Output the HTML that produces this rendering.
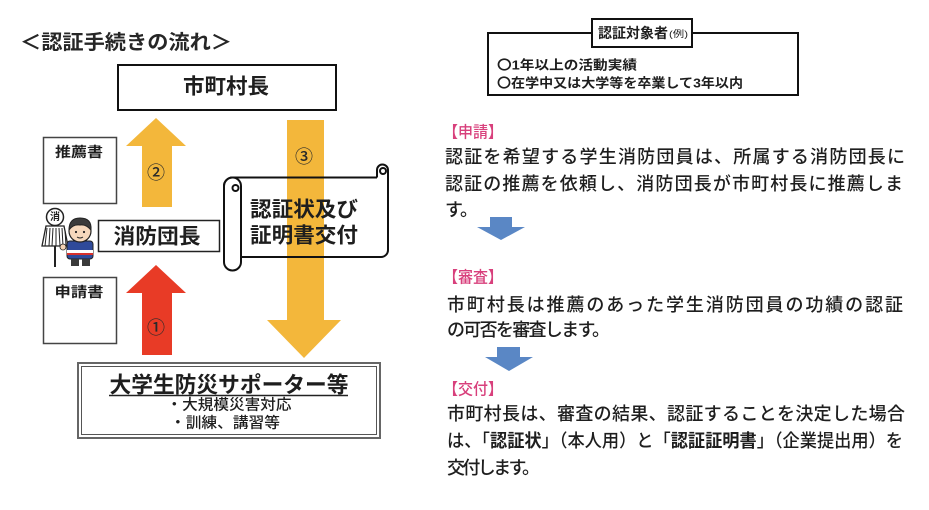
<!DOCTYPE html>
<html lang="ja">
<head>
<meta charset="utf-8">
<style>
  html, body { margin:0; padding:0; background:#fff; }
  body { width:929px; height:510px; overflow:hidden; }
  svg { display:block; }
  text { font-family: "Liberation Sans", "Noto Sans CJK JP", sans-serif; fill:#1e1e1e; }
  .b { font-weight:bold; }
  .m { font-weight:500; }
  .pink { fill:#d8407c; }
</style>
</head>
<body>
<svg width="929" height="510" viewBox="0 0 929 510" xmlns="http://www.w3.org/2000/svg">
  <rect x="0" y="0" width="929" height="510" fill="#fff"/>

  <!-- Title -->
  <text x="20" y="43" font-size="20" class="b" dominant-baseline="central" textLength="212" lengthAdjust="spacingAndGlyphs" style="fill:#262626">＜認証手続きの流れ＞</text>

  <!-- 市町村長 box -->
  <rect x="118" y="65" width="218" height="45" fill="#fff" stroke="#111" stroke-width="2"/>
  <text x="226" y="87" font-size="21" class="b" text-anchor="middle" dominant-baseline="central" textLength="86" lengthAdjust="spacingAndGlyphs">市町村長</text>

  <!-- 推薦書 box -->
  <rect x="43.5" y="137.5" width="73" height="66" fill="#fff" stroke="#444" stroke-width="1.5"/>
  <text x="79" y="152" font-size="14" class="b" text-anchor="middle" dominant-baseline="central" textLength="48" lengthAdjust="spacingAndGlyphs">推薦書</text>

  <!-- 申請書 box -->
  <rect x="43.5" y="277.5" width="73" height="66" fill="#fff" stroke="#444" stroke-width="1.5"/>
  <text x="79" y="292" font-size="14" class="b" text-anchor="middle" dominant-baseline="central" textLength="49" lengthAdjust="spacingAndGlyphs">申請書</text>

  <!-- Yellow up arrow (2) -->
  <polygon points="156,118 186,146 172,146 172,207 142,207 142,146 126,146" fill="#f3b73b"/>
  <text x="156" y="173" font-size="18" class="m" text-anchor="middle" dominant-baseline="central" style="fill:#2a2a2a">②</text>

  <!-- Red up arrow (1) -->
  <polygon points="156,265 186,293 172,293 172,355 142,355 142,293 126,293" fill="#e83b26"/>
  <text x="156" y="328" font-size="18" class="m" text-anchor="middle" dominant-baseline="central" style="fill:#2a2a2a">①</text>

  <!-- Yellow down arrow (3) -->
  <polygon points="287,120 324,120 324,320 341,320 304,358 267,320 287,320" fill="#f3b73b"/>
  <text x="304" y="157" font-size="18" class="m" text-anchor="middle" dominant-baseline="central" style="fill:#2a2a2a">③</text>

  <!-- Scroll shape (no fill) -->
  <g fill="none" stroke="#111" stroke-width="2" stroke-linejoin="round">
    <path d="M233 177.5 L377 177.5"/>
    <path d="M377 177.5 L377 170 A5.5 5.5 0 0 1 388 170 L388 250 A7 7 0 0 1 381 257 L241 257"/>
    <circle cx="383" cy="171" r="3"/>
    <path d="M241 186 L241 262 A8.5 8.5 0 0 1 224 262 L224 186 A8.5 8.5 0 0 1 241 186"/>
    <path d="M233 177.5 A8.5 8.5 0 0 0 224 186"/>
    <circle cx="235.5" cy="188" r="3"/>
  </g>
  <text x="250" y="210" font-size="21" class="b" dominant-baseline="central" textLength="108" lengthAdjust="spacingAndGlyphs">認証状及び</text>
  <text x="250" y="236" font-size="21" class="b" dominant-baseline="central" textLength="108" lengthAdjust="spacingAndGlyphs">証明書交付</text>

  <!-- 消防団長 box -->
  <rect x="98.5" y="220.5" width="121" height="31" fill="#fff" stroke="#222" stroke-width="1.5"/>
  <text x="157" y="237" font-size="21" class="b" text-anchor="middle" dominant-baseline="central" textLength="87" lengthAdjust="spacingAndGlyphs">消防団長</text>

  <!-- Firefighter figure -->
  <g>
    <line x1="55" y1="240" x2="55" y2="267" stroke="#222" stroke-width="2"/>
    <path d="M46 226 L64 226 L68 246 L42 246 Z" fill="#fff" stroke="#222" stroke-width="1.3"/>
    <path d="M47 228 L45 246 M50 228 L49 246 M53 228 L52 246 M56 228 L56 246 M59 228 L60 246 M62 228 L63 246 M65 230 L66 246" stroke="#222" stroke-width="1"/>
    <circle cx="55" cy="217" r="8.5" fill="#fff" stroke="#222" stroke-width="1.5"/>
    <text x="55" y="217.5" font-size="10" class="b" text-anchor="middle" dominant-baseline="central">消</text>
    <circle cx="63" cy="247" r="3" fill="#f4d3b4" stroke="#222" stroke-width="0.8"/>
    <rect x="67" y="241" width="26" height="18" rx="3" fill="#2f4a9a" stroke="#222" stroke-width="1"/>
    <rect x="67" y="250" width="26" height="3" fill="#fff"/>
    <rect x="67" y="253" width="26" height="2" fill="#d8302b"/>
    <rect x="71" y="259" width="8" height="7" fill="#3a3a3a"/>
    <rect x="82" y="259" width="8" height="7" fill="#3a3a3a"/>
    <circle cx="80" cy="231" r="11" fill="#f6d8bc" stroke="#222" stroke-width="1.2"/>
    <path d="M69 230 Q69 218 80 218 Q92 218 91 230 Q86 224 80 225 Q73 224 69 230 Z" fill="#3b3b3b" stroke="#222" stroke-width="1"/>
    <circle cx="76" cy="232" r="1.1" fill="#222"/>
    <circle cx="84" cy="232" r="1.1" fill="#222"/>
    <path d="M77 237 Q80 239 83 237" fill="none" stroke="#222" stroke-width="0.9"/>
  </g>

  <!-- Bottom double-border box -->
  <rect x="78" y="363" width="302" height="75" fill="#fff" stroke="#666" stroke-width="2"/>
  <rect x="81.5" y="366.5" width="295" height="68" fill="none" stroke="#555" stroke-width="1"/>
  <text x="229" y="385" font-size="22" class="b" text-anchor="middle" dominant-baseline="central" textLength="239" lengthAdjust="spacingAndGlyphs">大学生防災サポーター等</text>
  <line x1="109" y1="395.5" x2="348" y2="395.5" stroke="#222" stroke-width="1.5"/>
  <text x="229" y="405" font-size="15" class="m" text-anchor="middle" dominant-baseline="central" textLength="125" lengthAdjust="spacingAndGlyphs">・大規模災害対応</text>
  <text x="225" y="423" font-size="15" class="m" text-anchor="middle" dominant-baseline="central" textLength="110" lengthAdjust="spacingAndGlyphs">・訓練、講習等</text>

  <!-- 認証対象者 box -->
  <rect x="488" y="33" width="310" height="62" fill="#fff" stroke="#111" stroke-width="2"/>
  <rect x="592" y="19" width="100" height="28" fill="#fff" stroke="#111" stroke-width="2"/>
  <text x="598" y="33" font-size="14" class="b" dominant-baseline="central" textLength="70" lengthAdjust="spacingAndGlyphs">認証対象者</text>
  <text x="669" y="34" font-size="9" dominant-baseline="central" textLength="19" lengthAdjust="spacingAndGlyphs">(例)</text>
  <text x="497" y="65" font-size="13" class="b" dominant-baseline="central" textLength="140" lengthAdjust="spacingAndGlyphs">〇1年以上の活動実績</text>
  <text x="497" y="83" font-size="13" class="b" dominant-baseline="central" textLength="246" lengthAdjust="spacingAndGlyphs">〇在学中又は大学等を卒業して3年以内</text>

  <!-- 申請 -->
  <text x="443" y="133" font-size="16" class="pink m" dominant-baseline="central" textLength="60" lengthAdjust="spacingAndGlyphs">【申請】</text>
  <text x="445" y="157" font-size="18" class="m" dominant-baseline="central" textLength="460" lengthAdjust="spacing">認証を希望する学生消防団員は、所属する消防団長に</text>
  <text x="445" y="184" font-size="18" class="m" dominant-baseline="central" textLength="458" lengthAdjust="spacing">認証の推薦を依頼し、消防団長が市町村長に推薦しま</text>
  <text x="445" y="210" font-size="18" class="m" dominant-baseline="central" textLength="33" lengthAdjust="spacing">す。</text>
  <polygon points="490,217 512,217 512,227 525,227 501,240 477,227 490,227" fill="#5a87c5"/>

  <!-- 審査 -->
  <text x="443" y="278" font-size="16" class="pink m" dominant-baseline="central" textLength="60" lengthAdjust="spacingAndGlyphs">【審査】</text>
  <text x="447" y="305" font-size="18" class="m" dominant-baseline="central" textLength="456" lengthAdjust="spacing">市町村長は推薦のあった学生消防団員の功績の認証</text>
  <text x="447" y="330" font-size="18" class="m" dominant-baseline="central" textLength="163" lengthAdjust="spacing">の可否を審査します。</text>
  <polygon points="497,347 520,347 520,357 533,357 509,371 485,357 497,357" fill="#5a87c5"/>

  <!-- 交付 -->
  <text x="443" y="390" font-size="16" class="pink m" dominant-baseline="central" textLength="60" lengthAdjust="spacingAndGlyphs">【交付】</text>
  <text x="447" y="414" font-size="18" class="m" dominant-baseline="central" textLength="458" lengthAdjust="spacing">市町村長は、審査の結果、認証することを決定した場合</text>
  <text x="447" y="441" font-size="18" class="m" dominant-baseline="central" textLength="456" lengthAdjust="spacingAndGlyphs">は、「<tspan class="b">認証状</tspan>」（本人用）と「<tspan class="b">認証証明書</tspan>」（企業提出用）を</text>
  <text x="447" y="468" font-size="18" class="m" dominant-baseline="central" textLength="93" lengthAdjust="spacing">交付します。</text>
</svg>
</body>
</html>
